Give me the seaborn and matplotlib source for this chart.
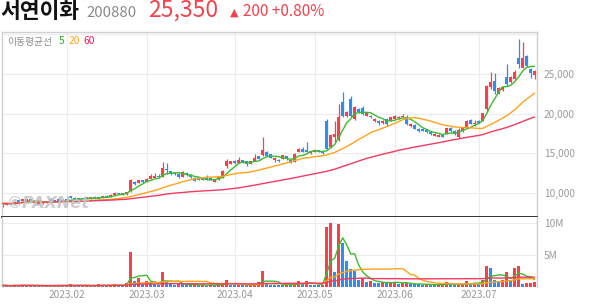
import numpy as np
import pandas as pd
import matplotlib
matplotlib.use("Agg")
import matplotlib.pyplot as plt
import seaborn as sns

# ---------------- data ----------------
holidays = ["2023-01-23", "2023-01-24", "2023-03-01", "2023-05-01",
            "2023-05-05", "2023-05-29", "2023-06-06"]
dates = pd.bdate_range("2023-01-06", "2023-07-21", freq="C", holidays=holidays)

open_ = [8450, 8500, 8700, 8600, 9070, 8990, 9000, 9150, 8850, 8600,
         8650, 8700, 9150, 9050, 9150, 9100, 9150, 9550, 9350, 9300,
         9300, 9180, 9250, 9480, 9400, 9380, 9620, 9500, 9750, 9950,
         9800, 9800, 10230, 11370, 11250, 11580, 11370, 11790, 11880, 12100,
         12000, 13050, 12750, 12500, 12420, 12000, 12500, 12300, 11870, 11870,
         11870, 12000, 11870, 11400, 11700, 11900, 13340, 13650, 14050, 13800,
         14090, 14000, 13680, 14000, 14590, 14720, 15150, 14840, 14100, 14180,
         14300, 14590, 14090, 13880, 15130, 15560, 15430, 15010, 15130, 15350,
         15250, 19110, 15760, 17020, 16600, 21410, 19650, 21830, 19320, 20580,
         20660, 19740, 19740, 19000, 19100, 18750, 19320, 19110, 19320, 19400,
         19530, 19610, 18400, 18610, 18070, 18070, 17980, 17650, 17190, 17020,
         17310, 17440, 18150, 17850, 17020, 17770, 18270, 19200, 18700, 19100,
         19110, 20580, 23290, 24130, 22460, 22960, 24630, 23920, 24340, 27060,
         25800, 27270, 25600, 24800]
high = [8750, 8700, 8760, 8900, 9100, 9260, 9250, 9200, 8900, 8850,
        8850, 8900, 9350, 9100, 9400, 9150, 9200, 9650, 9400, 9350,
        9330, 9450, 9450, 9550, 9450, 9650, 9700, 9800, 10050, 10000,
        9980, 10150, 11700, 11450, 11650, 11650, 11800, 12400, 12500, 12420,
        13900, 13800, 12800, 12600, 12500, 12700, 12600, 12350, 11950, 11950,
        11950, 12200, 11950, 11750, 12050, 12850, 14200, 14050, 14150, 14500,
        14150, 14050, 14000, 14850, 14650, 17020, 15300, 14900, 14450, 14250,
        14800, 14650, 14150, 15000, 15700, 15800, 16400, 15300, 15500, 15450,
        15300, 19300, 17400, 19100, 21200, 22750, 20300, 22250, 21000, 20700,
        20900, 20200, 19800, 19450, 19200, 19200, 19400, 19600, 19750, 19700,
        19900, 19800, 18750, 18700, 18150, 18100, 18050, 17700, 17500, 17350,
        17350, 18200, 18250, 17900, 18150, 18200, 19200, 19350, 19200, 19150,
        20100, 23600, 25260, 25050, 23300, 23400, 26220, 24700, 25500, 29360,
        29070, 27400, 25700, 25450]
low = [8250, 8450, 8550, 8580, 8700, 8950, 8950, 8850, 8600, 8550,
       8600, 8650, 8900, 8850, 8950, 8950, 8980, 9300, 9200, 9150,
       9150, 9150, 9200, 9300, 9200, 9350, 9400, 9450, 9700, 9800,
       9750, 9750, 10150, 11000, 11200, 11250, 11300, 11750, 11850, 11850,
       11950, 12420, 12250, 12300, 11800, 11950, 12150, 11900, 11450, 11550,
       11600, 11600, 11600, 11350, 11650, 11850, 13100, 13600, 13650, 13750,
       13700, 13420, 13600, 13950, 14200, 14650, 14600, 14350, 13900, 13900,
       14250, 14150, 13700, 13850, 15100, 15100, 15100, 14950, 15100, 15100,
       14950, 15450, 15600, 16400, 16500, 19600, 19500, 19600, 19200, 20050,
       19750, 19650, 19450, 18950, 18550, 18700, 18480, 19050, 19300, 19350,
       19500, 18600, 18350, 18000, 17700, 17750, 17600, 17300, 17150, 16980,
       16980, 17400, 17700, 17300, 16950, 17700, 18200, 18650, 18450, 18750,
       19050, 20150, 23100, 22460, 22400, 22900, 23500, 23850, 24300, 25800,
       25700, 25900, 24420, 24400]
close = [8650, 8620, 8600, 8800, 8740, 9230, 9200, 8900, 8650, 8800,
         8800, 8850, 8950, 8900, 9000, 9000, 9030, 9350, 9250, 9200,
         9180, 9400, 9400, 9350, 9250, 9600, 9480, 9740, 9990, 9850,
         9920, 10100, 11550, 11080, 11580, 11300, 11700, 12080, 12080, 11950,
         13130, 12840, 12330, 12340, 12000, 12630, 12200, 11950, 11500, 11580,
         11665, 11665, 11670, 11700, 11990, 12750, 13960, 13970, 13700, 14090,
         13760, 13590, 13960, 14430, 14250, 15350, 14650, 14420, 14380, 13970,
         14720, 14200, 13760, 14930, 15560, 15130, 15130, 15260, 15430, 15140,
         15050, 15560, 17230, 17440, 19530, 19740, 20160, 19740, 20780, 20160,
         19950, 20070, 19530, 19320, 18750, 19100, 18690, 19530, 19650, 19600,
         19740, 18690, 18690, 18070, 17770, 17800, 17650, 17350, 17440, 17310,
         17020, 18150, 17730, 17350, 17940, 18150, 19110, 18690, 18800, 18800,
         20030, 23500, 23920, 22880, 23210, 23290, 23710, 24630, 25180, 26220,
         27060, 26010, 25150, 25350]
volume_m = [0.25, 0.2, 0.18, 0.3, 0.22, 0.35, 0.2, 0.25, 0.2, 0.15,
            0.2, 0.18, 0.3, 0.22, 0.25, 0.2, 0.18, 0.47, 0.25, 0.2,
            0.18, 0.2, 0.22, 0.2, 0.45, 0.25, 0.2, 0.25, 0.45, 0.3,
            0.25, 0.55, 5.4, 1.0, 1.35, 0.5, 0.95, 0.65, 0.5, 0.35,
            2.4, 0.8, 0.5, 0.35, 0.55, 0.4, 0.3, 0.25, 0.4, 0.25,
            0.35, 0.2, 0.35, 0.25, 0.4, 0.6, 1.1, 0.35, 0.3, 0.35,
            0.3, 0.25, 0.35, 0.5, 0.8, 2.5, 0.4, 0.38, 0.35, 0.33,
            0.3, 0.4, 0.3, 0.5, 0.95, 0.4, 0.95, 0.35, 0.3, 0.25,
            0.35, 9.4, 10.0, 2.4, 9.8, 6.8, 4.0, 2.8, 2.5, 1.1,
            1.45, 0.85, 0.9, 0.6, 0.55, 0.85, 0.55, 0.8, 0.85, 0.5,
            0.55, 0.6, 0.45, 0.42, 0.4, 0.38, 0.45, 0.35, 0.3, 0.32,
            0.38, 0.8, 0.4, 0.3, 0.35, 0.4, 1.0, 0.45, 0.7, 0.45,
            1.1, 3.3, 2.9, 1.1, 1.0, 1.05, 2.4, 1.1, 3.0, 3.2,
            0.45, 0.65, 0.7, 0.75]

ma_windows = [5, 20, 60]
price_ticks = [10000, 15000, 20000, 25000, 30000]
price_tick_labels = ["10,000", "15,000", "20,000", "25,000", ""]
vol_ticks = [5e6, 10e6]
vol_tick_labels = ["5M", "10M"]

stock_name = "서연이화"
stock_code = "200880"
last_price = "25,350"
change_text = "200 +0.80%"
ma_label = "이동평균선"

# ---------------- styling ----------------
RED = "#f4414c"
BLUE = "#2f8df0"
MA_COLORS = ["#3cbb2f", "#ffa31a", "#f43a62"]
LEG_COLORS = ["#22b814", "#ffa31a", "#ee1a55"]
GRID = "#ececec"
BORDER = "#d0d0d0"
TICK = "#999999"

sns.set_theme(style="white")
plt.rcParams["font.family"] = ["Noto Sans CJK KR", "DejaVu Sans"]

W, H = 594, 304
fig = plt.figure(figsize=(W / 100, H / 100), dpi=100)


def fx(px):
    return px / W


def fy(py):
    return 1 - py / H


L_PX, R_PX = 2, 537
TOP_PX, SEP_PX, BOT_PX = 31.5, 216.5, 287
ax_p = fig.add_axes([fx(L_PX), fy(SEP_PX), fx(R_PX - L_PX), (SEP_PX - TOP_PX) / H])
ax_v = fig.add_axes([fx(L_PX), fy(BOT_PX), fx(R_PX - L_PX), (BOT_PX - SEP_PX) / H])

o = np.array(open_, float)
h = np.array(high, float)
l = np.array(low, float)
c = np.array(close, float)
v = np.array(volume_m) * 1e6
n = len(c)
x = np.arange(n)

df = pd.DataFrame({"x": x, "close": c, "vol": v})
for w in ma_windows:
    df[f"ma{w}"] = df["close"].rolling(w, min_periods=1).mean()
    df[f"vma{w}"] = df["vol"].rolling(w, min_periods=1).mean()

# month gridlines / ticks
months = pd.Series(dates.month)
month_idx = [i for i in range(1, n) if months[i] != months[i - 1]]
month_lbl = [dates[i].strftime("%Y.%m") for i in month_idx]

# ---- price panel ----
up = c >= o
cols = np.where(up, RED, BLUE)
ax_p.vlines(x, l, h, colors=cols, linewidth=0.9, zorder=2)
body_bot = np.minimum(o, c)
body_h = np.maximum(np.abs(c - o), 110)
ax_p.bar(x, body_h, bottom=body_bot, width=0.74, color=cols, linewidth=0, zorder=2)
for w, col in zip(ma_windows, MA_COLORS):
    sns.lineplot(data=df, x="x", y=f"ma{w}", ax=ax_p, color=col,
                 linewidth=1.0, zorder=3, legend=False)

ax_p.set_xlim(-0.2, 133.6)
ax_p.set_ylim(7000, 30350)
ax_p.set_xticks(month_idx)
ax_p.set_xticklabels([])
ax_p.set_yticks(price_ticks)
ax_p.set_yticklabels(price_tick_labels)
ax_p.yaxis.tick_right()
ax_p.tick_params(axis="y", length=0, pad=5, labelsize=7.3, labelcolor=TICK)
ax_p.tick_params(axis="x", length=0)
ax_p.grid(True, color=GRID, linewidth=0.8, zorder=0)
ax_p.set_axisbelow(True)
ax_p.set_xlabel("")
ax_p.set_ylabel("")
for s in ["top", "left", "right"]:
    ax_p.spines[s].set_color(BORDER)
    ax_p.spines[s].set_linewidth(1.0)
ax_p.spines["bottom"].set_color("#333333")
ax_p.spines["bottom"].set_linewidth(1.4)

# legend text
fig.text(fx(7), fy(41.5), ma_label, fontsize=7.0, color="#8c8c8c", va="center", ha="left")
leg_x = [59.0, 68.6, 83.6]
for w, col, lx in zip(ma_windows, LEG_COLORS, leg_x):
    fig.text(fx(lx), fy(41.5), str(w), fontsize=7.4, color=col, va="center", ha="left")

# watermark
fig.text(fx(7), fy(203.5), "©PAXNet", fontsize=11.5, fontweight="bold", style="italic",
         color="#c4c4c4", alpha=0.85, va="center", ha="left", family="DejaVu Sans",
         zorder=1)

# ---- volume panel ----
v_up = np.r_[True, v[1:] >= v[:-1]]
ax_v.bar(x, v, width=0.74, color=np.where(v_up, RED, BLUE), linewidth=0, zorder=2)
for w, col in zip(ma_windows, MA_COLORS):
    sns.lineplot(data=df, x="x", y=f"vma{w}", ax=ax_v, color=col,
                 linewidth=1.0, zorder=3, legend=False)
ax_v.set_xlim(-0.2, 133.6)
ax_v.set_ylim(0, 11.0e6)
ax_v.set_xticks(month_idx)
ax_v.set_xticklabels(month_lbl)
ax_v.set_yticks(vol_ticks)
ax_v.set_yticklabels(vol_tick_labels)
ax_v.yaxis.tick_right()
ax_v.tick_params(axis="y", length=0, pad=5, labelsize=7.3, labelcolor=TICK)
ax_v.tick_params(axis="x", length=0, pad=2.5, labelsize=7.3, labelcolor=TICK)
ax_v.grid(True, color=GRID, linewidth=0.8, zorder=0)
ax_v.set_axisbelow(True)
ax_v.set_xlabel("")
ax_v.set_ylabel("")
for s in ["left", "right"]:
    ax_v.spines[s].set_color(BORDER)
    ax_v.spines[s].set_linewidth(1.0)
ax_v.spines["top"].set_visible(False)
ax_v.spines["bottom"].set_visible(False)

# ---- header ----
fig.text(fx(0), fy(18.5), stock_name, fontsize=15.5, fontweight="bold", color="#111111",
         va="baseline", ha="left")
fig.text(fx(86), fy(16.7), stock_code, fontsize=10.8, color="#8a8a8a",
         va="baseline", ha="left")
fig.text(fx(148), fy(17), last_price, fontsize=16.5, color=RED,
         va="baseline", ha="left")
fig.text(fx(229.5), fy(15.5), "▲", fontsize=8, color=RED, va="baseline", ha="left",
         family=["DejaVu Sans"])
fig.text(fx(243), fy(16.4), change_text, fontsize=11, color=RED,
         va="baseline", ha="left")

fig.savefig("out.png", dpi=100)
